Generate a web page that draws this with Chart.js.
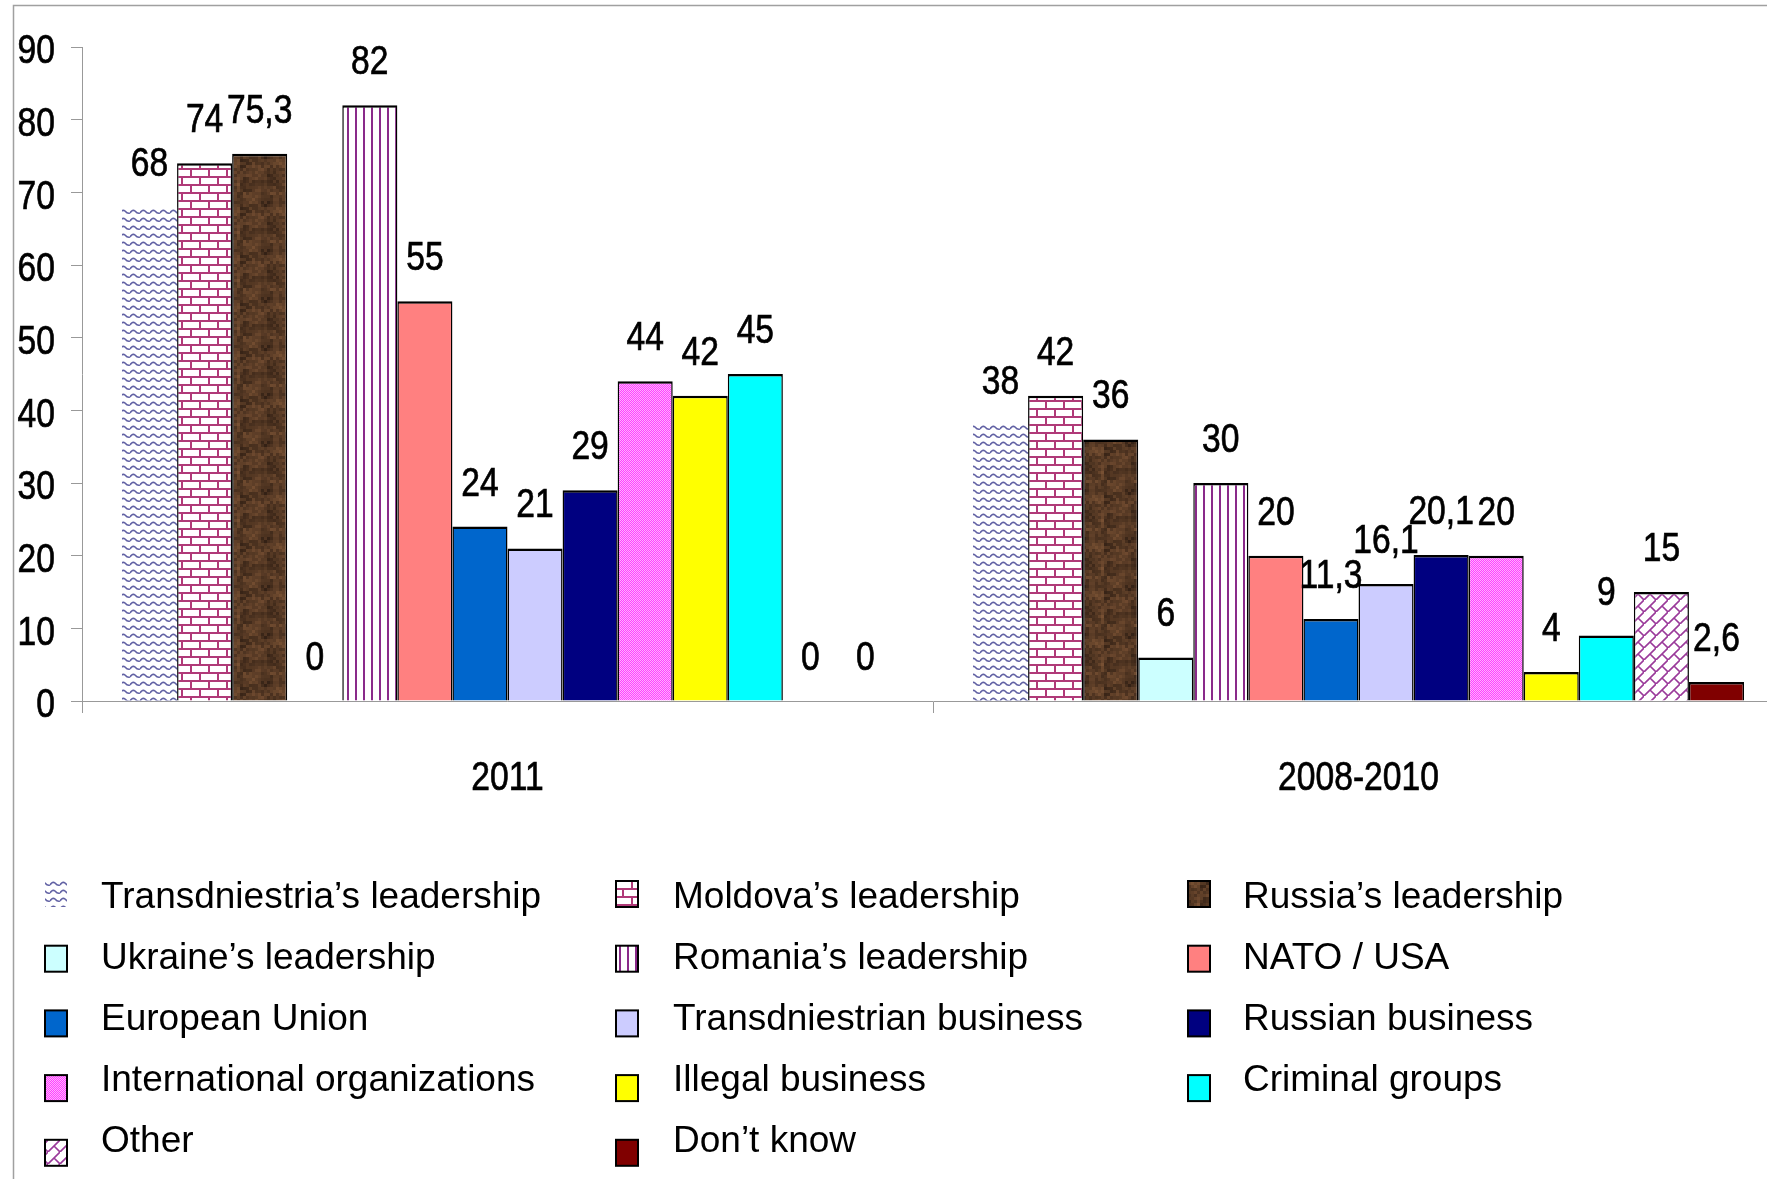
<!DOCTYPE html>
<html lang="en">
<head>
<meta charset="UTF-8">
<title>Who influences the Transdniestrian settlement</title>
<script src="https://cdn.jsdelivr.net/npm/chart.js"></script>
<style>
    html, body { margin: 0; padding: 0; background: #fff; overflow: hidden; }
    #wrap { width: 1767px; height: 1179px; overflow: hidden; }
    canvas { display: block; }
</style>
</head>
<body>
<div id="wrap"><canvas id="actorsChart" width="1800" height="1179"></canvas></div>
<script>
// data
var periods = ['2011', '2008-2010'];
var actors = [
    'Transdniestria\u2019s leadership', 'Moldova\u2019s leadership', 'Russia\u2019s leadership',
    'Ukraine\u2019s leadership', 'Romania\u2019s leadership', 'NATO / USA',
    'European Union', 'Transdniestrian business', 'Russian business',
    'International organizations', 'Illegal business', 'Criminal groups',
    'Other', 'Don\u2019t know'
];
var values2011 = [68, 74, 75.3, 0, 82, 55, 24, 21, 29, 44, 42, 45, 0, 0];
var values2008 = [38, 42, 36, 6, 30, 20, 11.3, 16.1, 20.1, 20, 4, 9, 15, 2.6];
var yMax = 90;
var yStep = 10;

// no narrow face installed, so numbers are squeezed horizontally instead
var numFont = '41px "Liberation Sans", Arial, sans-serif';
var squeeze = 0.82;
var legendFont = '37px "Liberation Sans", Arial, sans-serif';

var canvas = document.getElementById('actorsChart');
var ctx = canvas.getContext('2d');

function narrowText(c, text, x, y, align, baseline) {
    c.save();
    c.translate(x, y);
    c.scale(squeeze, 1);
    c.font = numFont;
    c.fillStyle = '#000';
    c.strokeStyle = '#000';
    c.lineWidth = 0.7;
    c.textAlign = align;
    c.textBaseline = baseline;
    c.fillText(text, 0, 0);
    c.strokeText(text, 0, 0);
    c.restore();
}

// small tiles used as repeating fills
function makePattern(w, h, draw) {
    var tile = document.createElement('canvas');
    tile.width = w;
    tile.height = h;
    var t = tile.getContext('2d');
    t.fillStyle = '#fff';
    t.fillRect(0, 0, w, h);
    draw(t, w, h);
    return ctx.createPattern(tile, 'repeat');
}

var wavePattern = makePattern(10, 8, function (t) {
    t.strokeStyle = '#6262a4';
    t.lineWidth = 1.6;
    t.beginPath();
    t.moveTo(0, 5);
    t.quadraticCurveTo(2.5, 1, 5, 3);
    t.quadraticCurveTo(7.5, 6, 10, 5);
    t.stroke();
});

var brickPattern = makePattern(18, 16, function (t) {
    t.strokeStyle = '#b03a78';
    t.lineWidth = 2;
    t.beginPath();
    t.moveTo(0, 1); t.lineTo(18, 1);
    t.moveTo(0, 9); t.lineTo(18, 9);
    t.moveTo(2, 1); t.lineTo(2, 9);
    t.moveTo(11, 9); t.lineTo(11, 17);
    t.stroke();
});

var woodPattern = makePattern(48, 48, function (t, w, h) {
    for (var i = 0; i < w / 3; i++) {
        for (var j = 0; j < h / 3; j++) {
            var n = Math.sin(i * 12.9898 + j * 78.233) * 43758.5453;
            n = n - Math.floor(n);
            var s = 0.5 + 0.5 * Math.sin(i * 0.45 + j * 0.3) * Math.cos(j * 0.5 - i * 0.2);
            var k = 0.5 * n + 0.5 * s;
            var r = Math.round(50 + 72 * k);
            var g = Math.round(32 + 50 * k);
            var b = Math.round(20 + 32 * k);
            t.fillStyle = 'rgb(' + r + ',' + g + ',' + b + ')';
            t.fillRect(i * 3, j * 3, 3, 3);
        }
    }
});

var stripePattern = makePattern(8, 8, function (t) {
    t.fillStyle = '#8a2a8a';
    t.fillRect(3, 0, 2, 8);
});

var dotPattern = makePattern(2, 2, function (t) {
    t.fillStyle = '#ff40ff';
    t.fillRect(0, 0, 2, 2);
    t.fillStyle = '#ffb0ff';
    t.fillRect(0, 0, 1, 1);
    t.fillRect(1, 1, 1, 1);
});

var weavePattern = makePattern(12, 12, function (t) {
    t.strokeStyle = '#9a3a9a';
    t.lineWidth = 1.6;
    t.beginPath();
    t.moveTo(-1, 13); t.lineTo(13, -1);
    t.moveTo(6, 6); t.lineTo(12, 12);
    t.moveTo(-1, 11); t.lineTo(1, 13);
    t.stroke();
});

var fills = [wavePattern, brickPattern, woodPattern, '#ccffff', stripePattern, '#ff8080',
    '#0066cc', '#ccccff', '#000080', dotPattern, '#ffff00', '#00ffff', weavePattern, '#800000'];

var datasets = actors.map(function (name, i) {
    return {
        label: name,
        data: [values2011[i], values2008[i]],
        backgroundColor: fills[i],
        borderColor: '#000',
        borderWidth: i === 0 ? 0 : { top: 2.5, left: 1.5, right: 1.5, bottom: 0 },
        borderSkipped: 'start'
    };
});

// white page with the grey frame
var framePlugin = {
    id: 'frame',
    beforeDraw: function (chart) {
        var c = chart.ctx;
        c.save();
        c.fillStyle = '#fff';
        c.fillRect(0, 0, chart.width, chart.height);
        c.strokeStyle = '#a0a0a0';
        c.lineWidth = 1.5;
        c.strokeRect(13.5, 5.5, chart.width + 20, chart.height + 20);
        c.restore();
    }
};

// axis numbers and category names, placed from the scales
var axisLabels = {
    id: 'axisLabels',
    afterDraw: function (chart) {
        var c = chart.ctx;
        var y = chart.scales.y;
        var x = chart.scales.x;
        y.ticks.forEach(function (tk, i) {
            narrowText(c, String(tk.value), y.right - 27, y.getPixelForTick(i) + 5, 'right', 'middle');
        });
        x.ticks.forEach(function (tk, i) {
            narrowText(c, chart.data.labels[i], x.getPixelForTick(i), x.top + 78, 'center', 'middle');
        });
    }
};

// value written above each bar
var valueLabels = {
    id: 'valueLabels',
    afterDatasetsDraw: function (chart) {
        var c = chart.ctx;
        chart.data.datasets.forEach(function (ds, i) {
            chart.getDatasetMeta(i).data.forEach(function (bar, j) {
                var txt = String(ds.data[j]).replace('.', ',');
                narrowText(c, txt, bar.x, bar.y - 31, 'center', 'alphabetic');
            });
        });
    }
};

// three column legend under the axis
var gridLegend = {
    id: 'gridLegend',
    afterDraw: function (chart) {
        var c = chart.ctx;
        var colSwatch = [45, 616, 1188];
        var colText = [101, 673, 1243];
        c.save();
        c.font = legendFont;
        c.textBaseline = 'middle';
        chart.data.datasets.forEach(function (ds, i) {
            var col = i % 3;
            var row = Math.floor(i / 3);
            var sy = 894 + row * 64.7;
            var ty = 898 + row * 61;
            var sx = colSwatch[col];
            c.fillStyle = ds.backgroundColor;
            c.fillRect(sx, sy - 13, 22, 26);
            if (i !== 0) {
                c.strokeStyle = '#000';
                c.lineWidth = 2;
                c.strokeRect(sx, sy - 13, 22, 26);
            }
            c.fillStyle = '#000';
            c.fillText(ds.label, colText[col], ty);
        });
        c.restore();
    }
};

var actorsChart = new Chart(ctx, {
    type: 'bar',
    data: {
        labels: periods,
        datasets: datasets
    },
    options: {
        responsive: false,
        animation: false,
        events: [],
        layout: { padding: { top: 47, right: 16, bottom: 378, left: 0 } },
        datasets: {
            bar: { categoryPercentage: 0.906, barPercentage: 1 }
        },
        plugins: {
            legend: { display: false },
            tooltip: { enabled: false },
            title: { display: false }
        },
        scales: {
            x: {
                grid: { drawOnChartArea: false, drawTicks: true, tickLength: 12, color: '#999', offset: true },
                border: { color: '#999', width: 1 },
                ticks: { display: false },
                afterFit: function (scale) { scale.height = 100; }
            },
            y: {
                min: 0,
                max: yMax,
                grid: { drawOnChartArea: false, drawTicks: true, tickLength: 11, color: '#999' },
                border: { color: '#999', width: 1 },
                ticks: { stepSize: yStep, display: false },
                afterFit: function (scale) { scale.width = 82; }
            }
        }
    },
    plugins: [framePlugin, axisLabels, valueLabels, gridLegend]
});
</script>
</body>
</html>
